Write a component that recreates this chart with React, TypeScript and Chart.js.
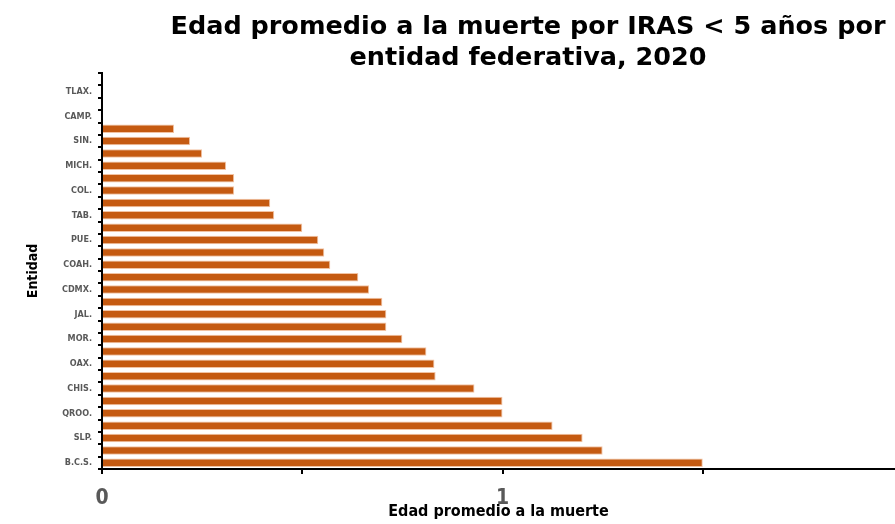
import React, { useEffect, useRef } from "react";
import { Chart, registerables } from "chart.js";

Chart.register(...registerables);

const titleLines = ["Edad promedio a la muerte por IRAS < 5 años por", "entidad federativa, 2020"];

const states = [
  "ZAC.", "TLAX.", "DGO.", "CAMP.", "NAY.", "SIN.", "AGS.", "MICH.",
  "B.C.", "COL.", "QRO.", "TAB.", "SON.", "PUE.", "HGO.", "COAH.",
  "TAMPS.", "CDMX.", "GRO.", "JAL.", "VER.", "MOR.", "N.L.", "OAX.",
  "YUC.", "CHIS.", "GTO.", "QROO.", "CHIH.", "SLP.", "MEX.", "B.C.S.",
];

const edadPromedio = [
  0, 0, 0, 0, 0.18, 0.22, 0.25, 0.31,
  0.33, 0.33, 0.42, 0.43, 0.5, 0.54, 0.555, 0.57,
  0.64, 0.667, 0.7, 0.71, 0.71, 0.75, 0.81, 0.83,
  0.833, 0.93, 1.0, 1.0, 1.125, 1.2, 1.25, 1.5,
];

const xMax = 1.98;

const titlePlugin = {
  id: "customTitle",
  afterDraw(chart: any) {
    const ctx = chart.ctx;
    ctx.save();
    ctx.font = 'bold 25.5px "DejaVu Sans", sans-serif';
    ctx.fillStyle = "#000000";
    ctx.textAlign = "center";
    ctx.textBaseline = "middle";
    ctx.fillText(titleLines[0], 528, 27);
    ctx.fillText(titleLines[1], 528, 58);
    ctx.restore();
  },
};

const narrow = '"Liberation Sans Narrow", "DejaVu Sans Condensed", sans-serif';

export default function App() {
  const ref = useRef<HTMLCanvasElement>(null);
  useEffect(() => {
    if (!ref.current) return;
    const chart = new Chart(ref.current, {
      type: "bar",
      data: {
        labels: states,
        datasets: [
          {
            data: edadPromedio,
            backgroundColor: "#C55A11",
            borderColor: "#F2C3A3",
            borderWidth: 1,
            barPercentage: 0.68,
            categoryPercentage: 1,
          },
        ],
      },
      options: {
        indexAxis: "y",
        responsive: false,
        animation: false,
        layout: { padding: { top: 73, right: 0, bottom: 0, left: 0 } },
        plugins: {
          legend: { display: false },
          title: { display: false },
          tooltip: { enabled: false },
        },
        scales: {
          x: {
            min: 0,
            max: xMax,
            afterFit: (s: any) => { s.height = 55; },
            ticks: {
              stepSize: 0.5,
              includeBounds: false,
              callback: (v: any) => (Number.isInteger(v) ? String(v) : ""),
              color: "#595959",
              font: { family: narrow, size: 21, weight: "bold" },
              padding: 12,
              maxRotation: 0,
            },
            grid: {
              display: true,
              drawOnChartArea: false,
              drawTicks: true,
              tickLength: 5,
              color: "#000000",
              lineWidth: 2,
            },
            border: { display: true, color: "#000000", width: 2 },
            title: {
              display: true,
              text: "Edad promedio a la muerte",
              color: "#000000",
              font: { family: narrow, size: 16, weight: "bold" },
              padding: { top: 0, bottom: 3 },
            },
          },
          y: {
            afterFit: (s: any) => { s.width = 102; },
            ticks: {
              autoSkip: false,
              callback: (_v: any, i: number) => (i % 2 === 1 ? states[i] : ""),
              color: "#595959",
              font: { family: narrow, size: 9, weight: "bold" },
              padding: 6,
            },
            grid: {
              display: true,
              drawOnChartArea: false,
              drawTicks: true,
              tickLength: 4,
              color: "#000000",
              lineWidth: 2,
            },
            border: { display: true, color: "#000000", width: 2 },
            title: {
              display: true,
              text: "Entidad",
              color: "#000000",
              font: { family: narrow, size: 14, weight: "bold" },
              padding: { top: 25, bottom: 0 },
            },
          },
        },
      },
      plugins: [titlePlugin],
    });
    return () => chart.destroy();
  }, []);

  return (
    <div style={{ position: "fixed", left: 0, top: 0, width: 895, height: 524, overflow: "hidden", background: "#fff" }}>
      <canvas ref={ref} width={895} height={524} style={{ width: 895, height: 524, display: "block" }} />
    </div>
  );
}
